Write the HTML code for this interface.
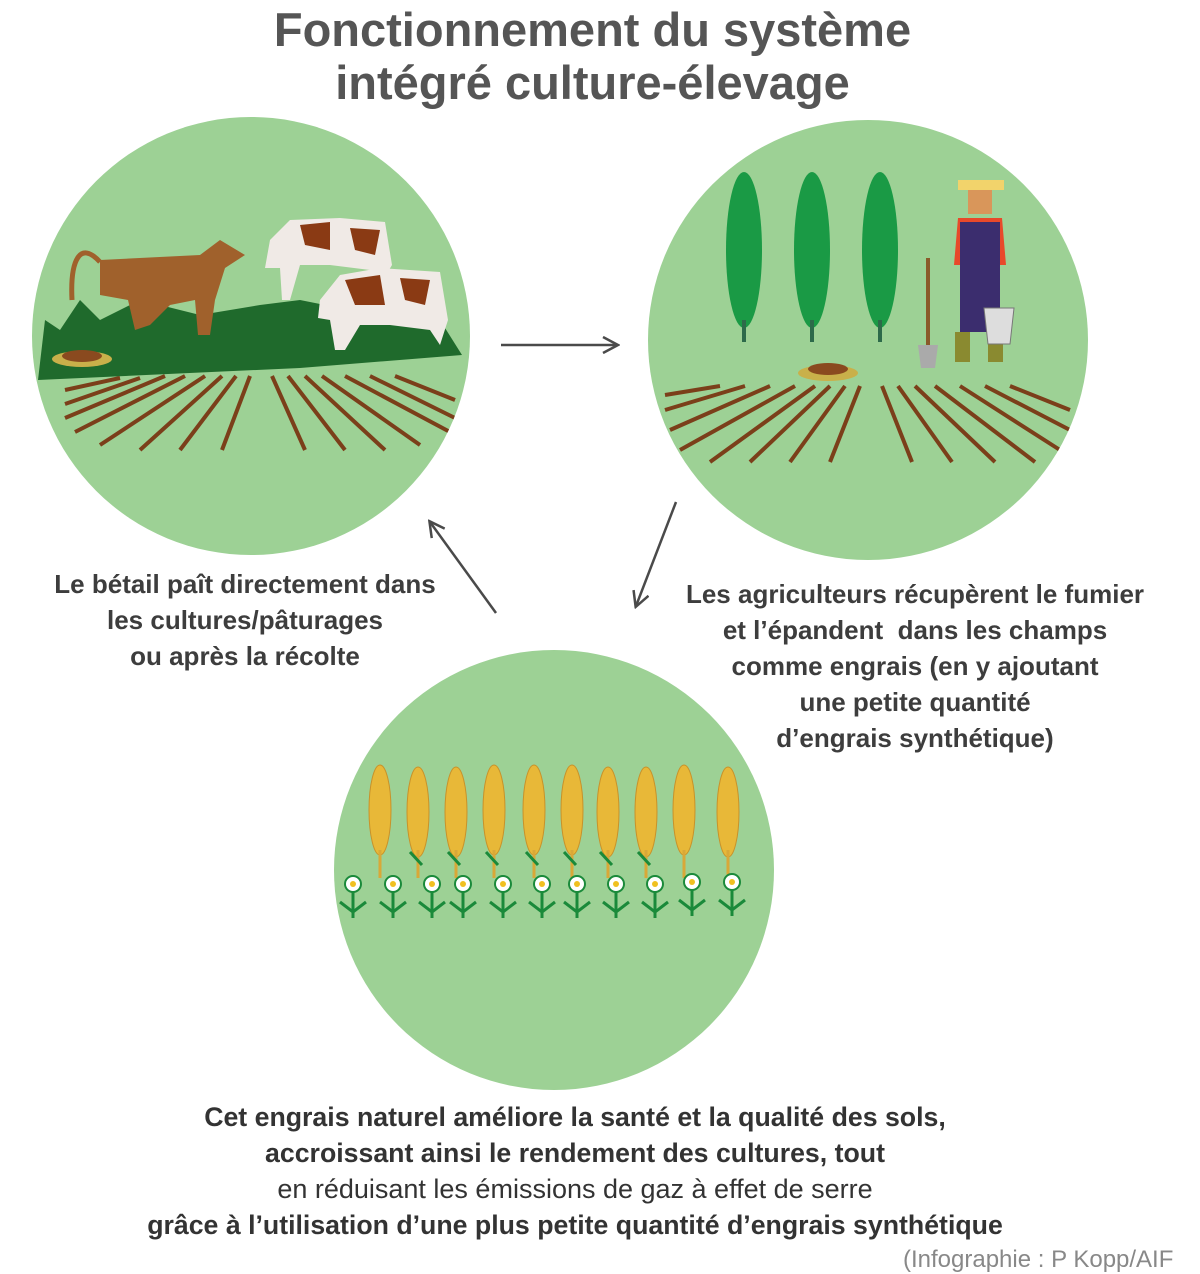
<!DOCTYPE html>
<html><head><meta charset="utf-8"><style>
html,body{margin:0;padding:0;background:#fff;}
body{width:1200px;height:1261px;position:relative;overflow:hidden;font-family:"Liberation Sans",sans-serif;}
.t{position:absolute;color:#3d3d3d;text-align:center;white-space:nowrap;}
</style></head><body>
<svg width="1200" height="1261" style="position:absolute;left:0;top:0">
<defs>
<marker id="ah" markerWidth="18" markerHeight="18" refX="15" refY="9" orient="auto" markerUnits="userSpaceOnUse"><path d="M1,1 L16,9 L1,17" fill="none" stroke="#4a4a4a" stroke-width="2.5"/></marker>
<clipPath id="c1"><circle cx="251" cy="336" r="219"/></clipPath>
<clipPath id="c2"><circle cx="868" cy="340" r="220"/></clipPath>
</defs>
<circle cx="251" cy="336" r="219" fill="#9dd195"/>
<circle cx="868" cy="340" r="220" fill="#9dd195"/>
<circle cx="554" cy="870" r="220" fill="#9dd195"/>
<g clip-path="url(#c1)">
<path d="M38,380 L45,320 L60,330 L80,300 L100,320 L140,300 L200,315 L260,305 L300,300 L350,310 L400,305 L440,320 L462,355 L300,368 L38,380Z" fill="#1f6a2c"/>
<g stroke="#7b3f1a" stroke-width="4">
<line x1="250" y1="376" x2="222" y2="450"/><line x1="236" y1="376" x2="180" y2="450"/><line x1="222" y1="376" x2="140" y2="450"/><line x1="205" y1="376" x2="100" y2="445"/><line x1="185" y1="376" x2="75" y2="432"/><line x1="165" y1="376" x2="65" y2="418"/><line x1="140" y1="378" x2="65" y2="404"/><line x1="120" y1="378" x2="65" y2="390"/>
<line x1="272" y1="376" x2="305" y2="450"/><line x1="288" y1="376" x2="345" y2="450"/><line x1="305" y1="376" x2="385" y2="450"/><line x1="322" y1="376" x2="420" y2="445"/><line x1="345" y1="376" x2="450" y2="432"/><line x1="370" y1="376" x2="455" y2="418"/><line x1="395" y1="376" x2="455" y2="400"/>
</g>
<ellipse cx="82" cy="359" rx="30" ry="8" fill="#c9b04a"/><ellipse cx="82" cy="356" rx="20" ry="6" fill="#8a4a1f"/>
<path d="M100,260 L200,255 L220,240 L245,255 L225,268 L215,300 L210,335 L198,335 L195,300 L170,305 L150,325 L135,330 L128,300 L100,295Z" fill="#a0612c"/>
<path d="M100,262 C80,240 70,260 72,300" stroke="#a0612c" stroke-width="5" fill="none"/>
<path d="M270,240 L290,220 L340,218 L385,222 L392,265 L380,285 L370,270 L330,265 L300,265 L290,300 L282,300 L280,268 L265,268Z" fill="#f0eae6"/>
<path d="M300,225 L330,222 L330,250 L305,245Z M350,228 L380,230 L375,255 L355,250Z" fill="#8a3a14"/>
<path d="M320,300 L340,275 L380,268 L440,272 L448,320 L440,345 L430,330 L390,325 L360,325 L345,350 L335,350 L330,320 L318,318Z" fill="#f0eae6"/>
<path d="M345,280 L380,275 L385,305 L355,305Z M400,278 L430,280 L425,305 L405,300Z" fill="#8a3a14"/>
</g>
<g clip-path="url(#c2)">
<g fill="#1a9a45">
<ellipse cx="744" cy="250" rx="18" ry="78"/><ellipse cx="812" cy="250" rx="18" ry="78"/><ellipse cx="880" cy="250" rx="18" ry="78"/>
</g>
<g stroke="#2d6a4a" stroke-width="4"><line x1="744" y1="320" x2="744" y2="342"/><line x1="812" y1="320" x2="812" y2="342"/><line x1="880" y1="320" x2="880" y2="342"/></g>
<ellipse cx="828" cy="373" rx="30" ry="8" fill="#c9b04a"/><ellipse cx="828" cy="369" rx="20" ry="6" fill="#8a4a1f"/>
<g stroke="#7b3f1a" stroke-width="4">
<line x1="860" y1="386" x2="830" y2="462"/><line x1="845" y1="386" x2="790" y2="462"/><line x1="830" y1="386" x2="750" y2="462"/><line x1="815" y1="386" x2="710" y2="462"/><line x1="795" y1="386" x2="680" y2="450"/><line x1="770" y1="386" x2="670" y2="430"/><line x1="745" y1="386" x2="665" y2="410"/><line x1="720" y1="386" x2="665" y2="395"/>
<line x1="882" y1="386" x2="912" y2="462"/><line x1="898" y1="386" x2="952" y2="462"/><line x1="915" y1="386" x2="995" y2="462"/><line x1="935" y1="386" x2="1035" y2="462"/><line x1="960" y1="386" x2="1060" y2="450"/><line x1="985" y1="386" x2="1070" y2="430"/><line x1="1010" y1="386" x2="1070" y2="410"/>
</g>
<rect x="958" y="180" width="46" height="10" fill="#f2d36b"/><rect x="968" y="190" width="24" height="24" fill="#d9965a"/>
<path d="M958,218 L1002,218 L1006,265 L954,265Z" fill="#e8492a"/>
<rect x="960" y="222" width="40" height="110" fill="#3b2d6e"/>
<rect x="955" y="332" width="15" height="30" fill="#8a8a30"/><rect x="988" y="332" width="15" height="30" fill="#8a8a30"/>
<line x1="928" y1="258" x2="928" y2="345" stroke="#8a5a2a" stroke-width="4"/><path d="M918,345 L938,345 L935,368 L921,368Z" fill="#aaa"/>
<path d="M984,308 L1014,308 L1010,344 L988,344Z" fill="#ddd" stroke="#777"/>
</g>
<g>
<g fill="#e8b838" stroke="#c8922a" stroke-width="1">
<ellipse cx="380" cy="810" rx="11" ry="45"/><ellipse cx="418" cy="812" rx="11" ry="45"/><ellipse cx="456" cy="812" rx="11" ry="45"/><ellipse cx="494" cy="810" rx="11" ry="45"/><ellipse cx="534" cy="810" rx="11" ry="45"/><ellipse cx="572" cy="810" rx="11" ry="45"/><ellipse cx="608" cy="812" rx="11" ry="45"/><ellipse cx="646" cy="812" rx="11" ry="45"/><ellipse cx="684" cy="810" rx="11" ry="45"/><ellipse cx="728" cy="812" rx="11" ry="45"/>
</g>
<g stroke="#d9a838" stroke-width="3"><line x1="380" y1="850" x2="380" y2="878"/><line x1="418" y1="850" x2="418" y2="878"/><line x1="456" y1="850" x2="456" y2="878"/><line x1="494" y1="850" x2="494" y2="878"/><line x1="534" y1="850" x2="534" y2="878"/><line x1="572" y1="850" x2="572" y2="878"/><line x1="608" y1="850" x2="608" y2="878"/><line x1="646" y1="850" x2="646" y2="878"/><line x1="684" y1="850" x2="684" y2="878"/><line x1="728" y1="850" x2="728" y2="878"/></g>
<g stroke="#1a8a3a" stroke-width="3" fill="none">
<path d="M422,865 L410,852 M460,865 L448,852 M498,865 L486,852 M538,865 L526,852 M576,865 L564,852 M612,865 L600,852 M650,865 L638,852"/>
</g>
<g fill="#fff" stroke="#1a8a3a" stroke-width="2">
<circle cx="353" cy="884" r="8"/><circle cx="393" cy="884" r="8"/><circle cx="432" cy="884" r="8"/><circle cx="463" cy="884" r="8"/><circle cx="503" cy="884" r="8"/><circle cx="542" cy="884" r="8"/><circle cx="577" cy="884" r="8"/><circle cx="616" cy="884" r="8"/><circle cx="655" cy="884" r="8"/><circle cx="692" cy="882" r="8"/><circle cx="732" cy="882" r="8"/>
</g>
<g fill="#f0c020"><circle cx="353" cy="884" r="3"/><circle cx="393" cy="884" r="3"/><circle cx="432" cy="884" r="3"/><circle cx="463" cy="884" r="3"/><circle cx="503" cy="884" r="3"/><circle cx="542" cy="884" r="3"/><circle cx="577" cy="884" r="3"/><circle cx="616" cy="884" r="3"/><circle cx="655" cy="884" r="3"/><circle cx="692" cy="882" r="3"/><circle cx="732" cy="882" r="3"/></g>
<g stroke="#1a8a3a" stroke-width="3" fill="none">
<path d="M353,892 V918 M340,902 L353,912 L366,902"/><path d="M393,892 V918 M380,902 L393,912 L406,902"/><path d="M432,892 V918 M419,902 L432,912 L445,902"/><path d="M463,892 V918 M450,902 L463,912 L476,902"/><path d="M503,892 V918 M490,902 L503,912 L516,902"/><path d="M542,892 V918 M529,902 L542,912 L555,902"/><path d="M577,892 V918 M564,902 L577,912 L590,902"/><path d="M616,892 V918 M603,902 L616,912 L629,902"/><path d="M655,892 V918 M642,902 L655,912 L668,902"/><path d="M692,890 V916 M679,900 L692,910 L705,900"/><path d="M732,890 V916 M719,900 L732,910 L745,900"/>
</g>
</g>
<line x1="501" y1="345" x2="617" y2="345" stroke="#4a4a4a" stroke-width="2.5" marker-end="url(#ah)"/>
<line x1="676" y1="502" x2="636" y2="606" stroke="#4a4a4a" stroke-width="2.5" marker-end="url(#ah)"/>
<line x1="496" y1="613" x2="430" y2="522" stroke="#4a4a4a" stroke-width="2.5" marker-end="url(#ah)"/>
</svg>
<div class="t" style="left:0;width:1185px;top:3px;font-size:47px;line-height:53px;font-weight:bold;color:#555;">Fonctionnement du système<br>intégré culture-élevage</div>
<div class="t" style="left:30px;width:430px;top:566px;font-size:26px;line-height:36px;font-weight:bold;">Le bétail paît directement dans<br>les cultures/pâturages<br>ou après la récolte</div>
<div class="t" style="left:670px;width:490px;top:576px;font-size:26px;line-height:36px;font-weight:bold;">Les agriculteurs récupèrent le fumier<br>et l’épandent&nbsp; dans les champs<br>comme engrais (en y ajoutant<br>une petite quantité<br>d’engrais synthétique)</div>
<div class="t" style="left:70px;width:1010px;top:1099px;font-size:26.7px;line-height:36px;font-weight:bold;color:#333;">Cet engrais naturel améliore la santé et la qualité des sols,<br>accroissant ainsi le rendement des cultures, tout<br><span style="font-weight:normal;font-size:27px">en réduisant les émissions de gaz à effet de serre</span><br>grâce à l’utilisation d’une plus petite quantité d’engrais synthétique</div>
<div class="t" style="left:903px;top:1246px;font-size:24px;color:#888;">(Infographie : P Kopp/AIF</div>
</body></html>
